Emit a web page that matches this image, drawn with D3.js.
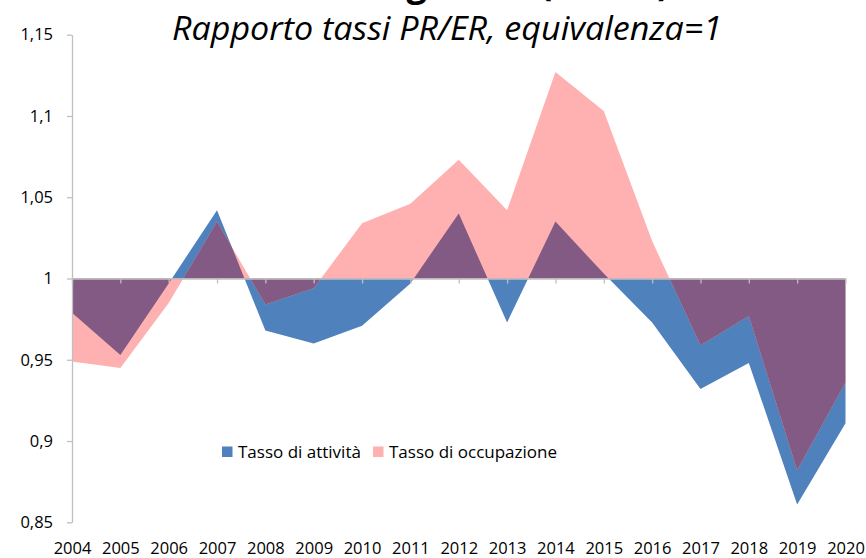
<!DOCTYPE html>
<html>
<head>
<meta charset="utf-8">
<script src="https://cdnjs.cloudflare.com/ajax/libs/d3/7.8.5/d3.min.js"></script>
<style>
  body { margin: 0; background: #fff; }
  text { font-family: 'Open Sans', 'Liberation Sans', sans-serif; fill: #000; }
</style>
</head>
<body>
<div id="svg-container"></div>
<script>
const years = [2004, 2005, 2006, 2007, 2008, 2009, 2010, 2011, 2012, 2013, 2014, 2015, 2016, 2017, 2018, 2019, 2020];

// rapporto PR/ER
const tassoAttivita = [0.979, 0.953, 0.997, 1.042, 0.968, 0.960, 0.971, 0.997, 1.040, 0.973, 1.035, 1.003, 0.973, 0.932, 0.948, 0.861, 0.911];
const tassoOccupazione = [0.949, 0.945, 0.985, 1.035, 0.984, 0.994, 1.034, 1.046, 1.073, 1.042, 1.127, 1.103, 1.023, 0.959, 0.977, 0.882, 0.936];

const yTicks = [0.85, 0.9, 0.95, 1, 1.05, 1.1, 1.15];
const seriesNames = ['Tasso di attività', 'Tasso di occupazione'];
const titleText = 'Rapporto tassi PR/ER, equivalenza=1';
const topTitleText = 'Divario di genere (PR/ER)';

generate();

function generate() {
  const width = 866;
  const height = 558;
  const padding = {
    top: 34.7,
    right: 20.5,
    bottom: 35.7,
    left: 72 };

  const colors = {
    attivita: '#4f81bd',
    occupazione: '#ffb0b0',
    overlap: '#835a83',
    axis: '#bfbfbf' };

  const svg = d3.select('#svg-container').
  append('svg').
  attr('width', width).
  attr('height', height);

  const xScale = d3.scaleLinear().
  domain([years[0], years[years.length - 1]]).
  range([padding.left, width - padding.right]);

  const yScale = d3.scaleLinear().
  domain([0.85, 1.15]).
  range([height - padding.bottom, padding.top]);

  const area = d3.area().
  x((d, i) => xScale(years[i])).
  y0(yScale(1)).
  y1(d => yScale(d));

  // title cut off at the top of the picture
  svg.append('text').
  attr('x', 447).
  attr('y', -4).
  attr('text-anchor', 'middle').
  style('font-size', '36px').
  style('font-weight', 'bold').
  text(topTitleText);

  svg.append('text').
  attr('x', 447).
  attr('y', 40).
  attr('text-anchor', 'middle').
  attr('textLength', 550).
  attr('lengthAdjust', 'spacingAndGlyphs').
  style('font-size', '33px').
  style('font-style', 'italic').
  text(titleText);

  svg.append('defs').
  append('clipPath').
  attr('id', 'clip-occupazione').
  append('path').
  attr('d', area(tassoOccupazione));

  svg.append('path').
  attr('d', area(tassoAttivita)).
  style('fill', colors.attivita);

  svg.append('path').
  attr('d', area(tassoOccupazione)).
  style('fill', colors.occupazione);

  // where both areas overlap
  svg.append('path').
  attr('d', area(tassoAttivita)).
  attr('clip-path', 'url(#clip-occupazione)').
  style('fill', colors.overlap);

  const yAxis = d3.axisLeft(yScale).
  tickValues(yTicks).
  tickSize(5).
  tickSizeOuter(0).
  tickPadding(14).
  tickFormat(d => String(d).replace('.', ','));

  const gy = svg.append('g').
  attr('transform', 'translate(' + padding.left + ', 0)').
  call(yAxis);

  gy.selectAll('text').style('font-size', '16.5px').style('font-family', null);

  const xAxis = d3.axisBottom(xScale).
  tickValues(years).
  tickSize(5).
  tickSizeOuter(0).
  tickFormat('');

  svg.append('g').
  attr('transform', 'translate(0, ' + yScale(1) + ')').
  call(xAxis);

  const xLabels = d3.axisBottom(xScale).
  tickValues(years).
  tickSize(0).
  tickPadding(0).
  tickFormat(d3.format('d'));

  const gx = svg.append('g').
  attr('transform', 'translate(0, ' + (height - 16) + ')').
  call(xLabels);

  gx.select('.domain').remove();
  gx.selectAll('text').style('font-size', '16.5px').style('font-family', null);

  svg.selectAll('.domain, .tick line').
  style('stroke', colors.axis).
  style('stroke-width', 1.3);

  const legend = svg.append('g').
  attr('id', 'legend').
  attr('transform', 'translate(222, 446.5)');

  const legendItems = [
  { name: seriesNames[0], color: colors.attivita, x: 0 },
  { name: seriesNames[1], color: colors.occupazione, x: 151 }];

  legend.selectAll('rect').
  data(legendItems).
  enter().
  append('rect').
  attr('x', d => d.x).
  attr('y', 0).
  attr('width', 10.5).
  attr('height', 10.5).
  style('fill', d => d.color);

  legend.selectAll('text').
  data(legendItems).
  enter().
  append('text').
  attr('x', d => d.x + 16).
  attr('y', 11).
  style('font-size', '17px').
  text(d => d.name);
}
</script>
</body>
</html>
